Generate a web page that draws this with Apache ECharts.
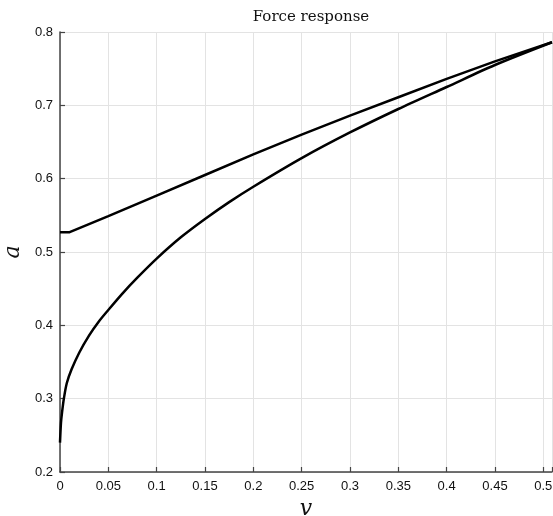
<!DOCTYPE html>
<html>
<head>
<meta charset="utf-8">
<style>
  html, body { margin: 0; padding: 0; background: #fff; }
  #chart { width: 553px; height: 516px; }
</style>
<script src="https://cdn.jsdelivr.net/npm/echarts@6/dist/echarts.min.js"></script>
</head>
<body>
<div id="chart"></div>
<script>
// Upper branch: short flat segment, then a nearly straight rise
const upperV = [0, 0.01, 0.05, 0.1, 0.15, 0.2, 0.25, 0.3, 0.35, 0.4, 0.45, 0.509];
const upperA = [0.527, 0.527, 0.549, 0.577, 0.605, 0.633, 0.660, 0.686, 0.711, 0.736, 0.760, 0.786];

// Lower branch: steep rise from v = 0, joining the upper branch at the end
const lowerV = [0, 0.001, 0.002, 0.004, 0.007, 0.012, 0.02, 0.03, 0.04, 0.05, 0.065, 0.08, 0.1, 0.125, 0.15, 0.175, 0.2, 0.25, 0.3, 0.35, 0.4, 0.45, 0.509];
const lowerA = [0.240, 0.267, 0.280, 0.300, 0.321, 0.340, 0.363, 0.386, 0.405, 0.421, 0.444, 0.465, 0.491, 0.520, 0.545, 0.568, 0.589, 0.628, 0.663, 0.695, 0.725, 0.755, 0.786];

const xMin = 0, xMax = 0.509, xStep = 0.05;
const yMin = 0.2, yMax = 0.8, yStep = 0.1;

const pairs = (xs, ys) => xs.map((x, i) => [x, ys[i]]);
const isStep = (v, step) => Math.abs(v / step - Math.round(v / step)) < 1e-6;

const chart = echarts.init(document.getElementById('chart'), null, { renderer: 'canvas' });
const tickFont = { color: '#111', fontFamily: 'Liberation Sans, Arial, sans-serif', fontSize: 13 };
const serif = 'DejaVu Serif, Liberation Serif, serif';

chart.setOption({
  animation: false,
  backgroundColor: '#ffffff',
  title: {
    text: 'Force response',
    left: 306, top: 5, textAlign: 'center',
    textStyle: { fontFamily: serif, fontWeight: 'normal', fontSize: 15, color: '#111' }
  },
  grid: { left: 60, top: 32, right: 1, bottom: 44, containLabel: false, outerBoundsMode: 'none' },
  xAxis: {
    type: 'value', min: xMin, max: xMax, interval: xStep,
    name: 'v', nameLocation: 'middle', nameGap: 24,
    nameTextStyle: { fontFamily: serif, fontStyle: 'italic', fontSize: 22, color: '#111' },
    axisLine: { show: true, lineStyle: { color: '#444', width: 1.5 } },
    axisTick: { show: true, inside: true, length: 5, lineStyle: { color: '#444', width: 1.2 } },
    axisLabel: Object.assign({ margin: 8,
      formatter: v => isStep(v, xStep) ? String(+v.toFixed(2)) : '' }, tickFont),
    splitLine: { show: true, lineStyle: { color: '#e3e3e3', width: 1 } }
  },
  yAxis: {
    type: 'value', min: yMin, max: yMax, interval: yStep,
    name: 'a', nameLocation: 'middle', nameGap: 34,
    nameTextStyle: { fontFamily: serif, fontStyle: 'italic', fontSize: 22, color: '#111' },
    axisLine: { show: true, lineStyle: { color: '#444', width: 1.5 } },
    axisTick: { show: true, inside: true, length: 5, lineStyle: { color: '#444', width: 1.2 } },
    axisLabel: Object.assign({ margin: 7, formatter: v => String(+v.toFixed(1)) }, tickFont),
    splitLine: { show: true, lineStyle: { color: '#e3e3e3', width: 1 } }
  },
  series: [
    {
      type: 'line', data: pairs(upperV, upperA), showSymbol: false, smooth: false,
      lineStyle: { color: '#000', width: 2.5 }, silent: true
    },
    {
      type: 'line', data: pairs(lowerV, lowerA), showSymbol: false, smooth: 0.3,
      lineStyle: { color: '#000', width: 2.5 }, silent: true
    }
  ]
});
</script>
</body>
</html>
